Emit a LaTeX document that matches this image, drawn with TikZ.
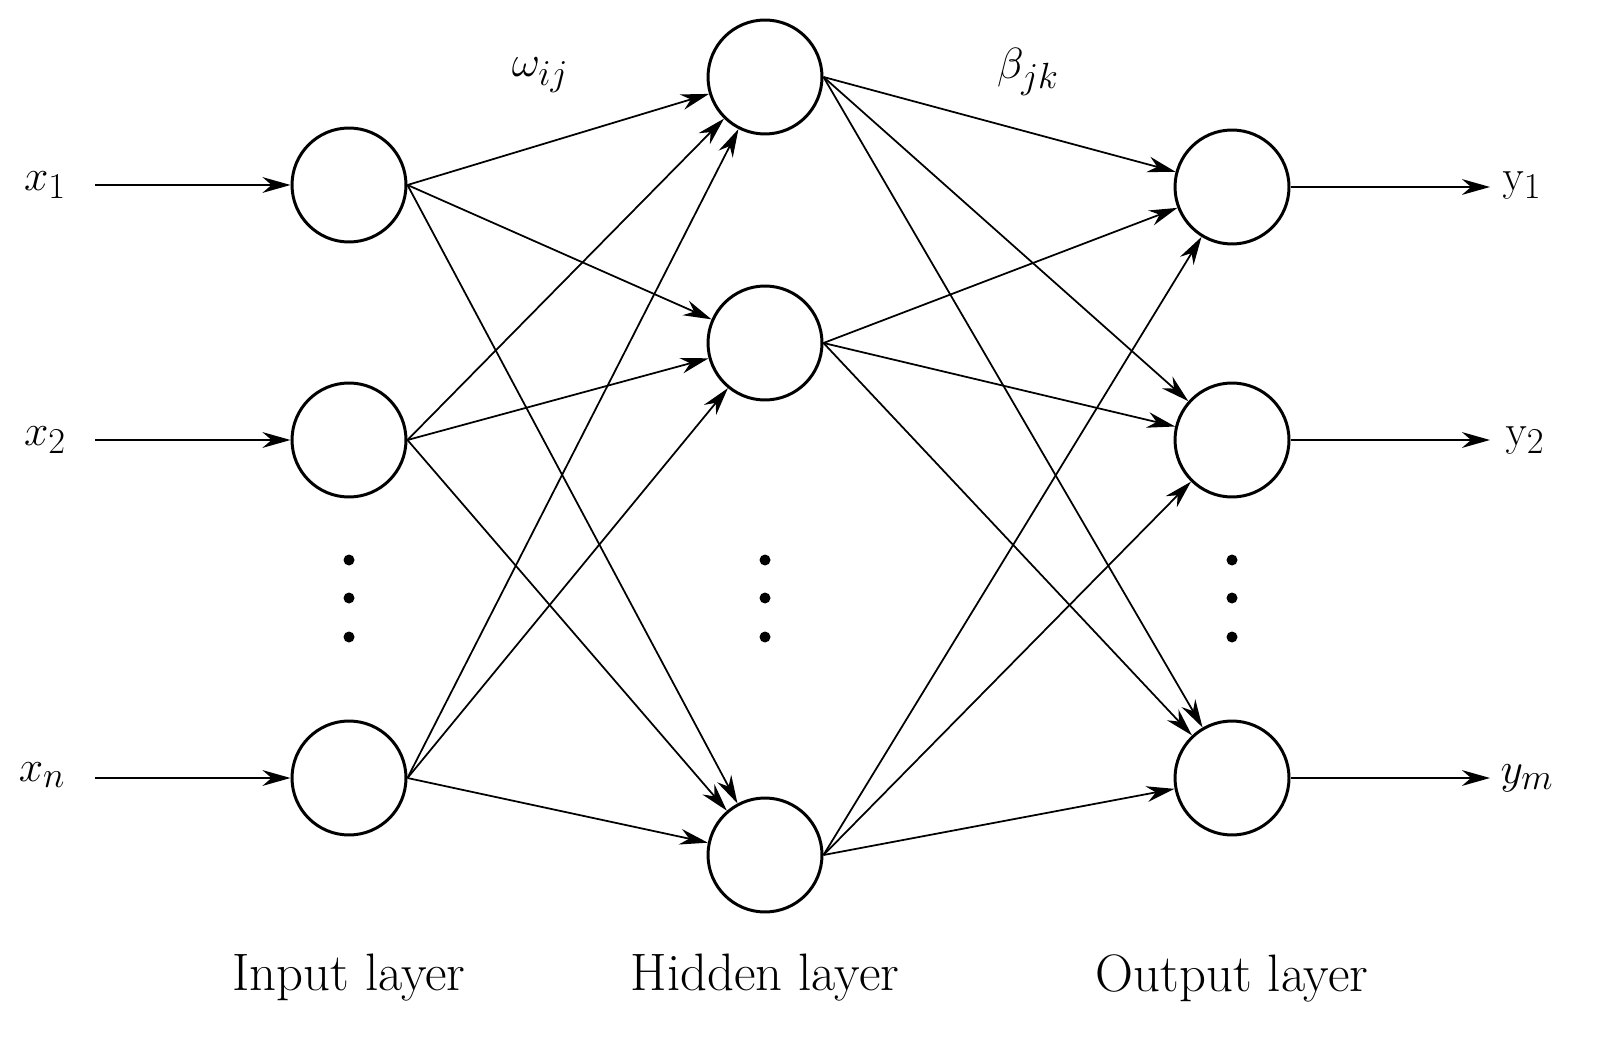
\documentclass[tikz,border=0pt]{standalone}
\usetikzlibrary{arrows.meta}
\begin{document}
\begin{tikzpicture}[x=0.02cm,y=-0.02cm,
  neuron/.style={circle,draw,line width=1.7pt,minimum size=2.28cm,inner sep=0pt},
  conn/.style={line width=1pt,-{Stealth[length=16pt,width=9pt]}},
  lbl/.style={font=\fontsize{30}{34}\selectfont},
  dot/.style={circle,fill,inner sep=0pt,minimum size=0.22cm}]
\useasboundingbox (0,0) rectangle (1601,1050);
\node[neuron] (i1) at (349,185) {};
\node[neuron] (i2) at (349,440) {};
\node[neuron] (i3) at (349,778) {};
\node[neuron] (h1) at (765,77) {};
\node[neuron] (h2) at (765,343) {};
\node[neuron] (h3) at (765,855) {};
\node[neuron] (o1) at (1232,187) {};
\node[neuron] (o2) at (1232,440) {};
\node[neuron] (o3) at (1232,778) {};
\foreach \x/\n in {349/a,765/b,1232/c}{
  \node[dot] (\n1) at (\x,560) {};
  \node[dot] (\n2) at (\x,598) {};
  \node[dot] (\n3) at (\x,637) {};
}
\node[lbl] (x1) at (45,185) {$x_1$};
\node[lbl] (x2) at (45,440) {$x_2$};
\node[lbl] (x3) at (42,775) {$x_n$};
\node[lbl] (y1) at (1522,185) {$\mathrm{y}_1$};
\node[lbl] (y2) at (1525,440) {$\mathrm{y}_2$};
\node[lbl] (y3) at (1527,778) {$y_m$};
\coordinate (s1) at (95,185); \coordinate (s2) at (95,440); \coordinate (s3) at (95,778);
\coordinate (e1) at (1490,187); \coordinate (e2) at (1490,440); \coordinate (e3) at (1490,778);
\foreach \k in {1,2,3}{
  \draw[conn] (s\k) -- (i\k);
  \draw[conn] (o\k) -- (e\k);
  \foreach \j in {1,2,3}{
    \draw[conn] (i\k.east) -- (h\j);
    \draw[conn] (h\k.east) -- (o\j);
  }
}
\node[lbl] (w) at (540,75) {$\omega_{ij}$};
\node[lbl] (b) at (1028,72) {$\beta_{jk}$};
\node[lbl] (L1) at (349,978) {Input layer};
\node[lbl] (L2) at (765,978) {Hidden layer};
\node[lbl] (L3) at (1232,978) {Output layer};
\end{tikzpicture}
\end{document}
